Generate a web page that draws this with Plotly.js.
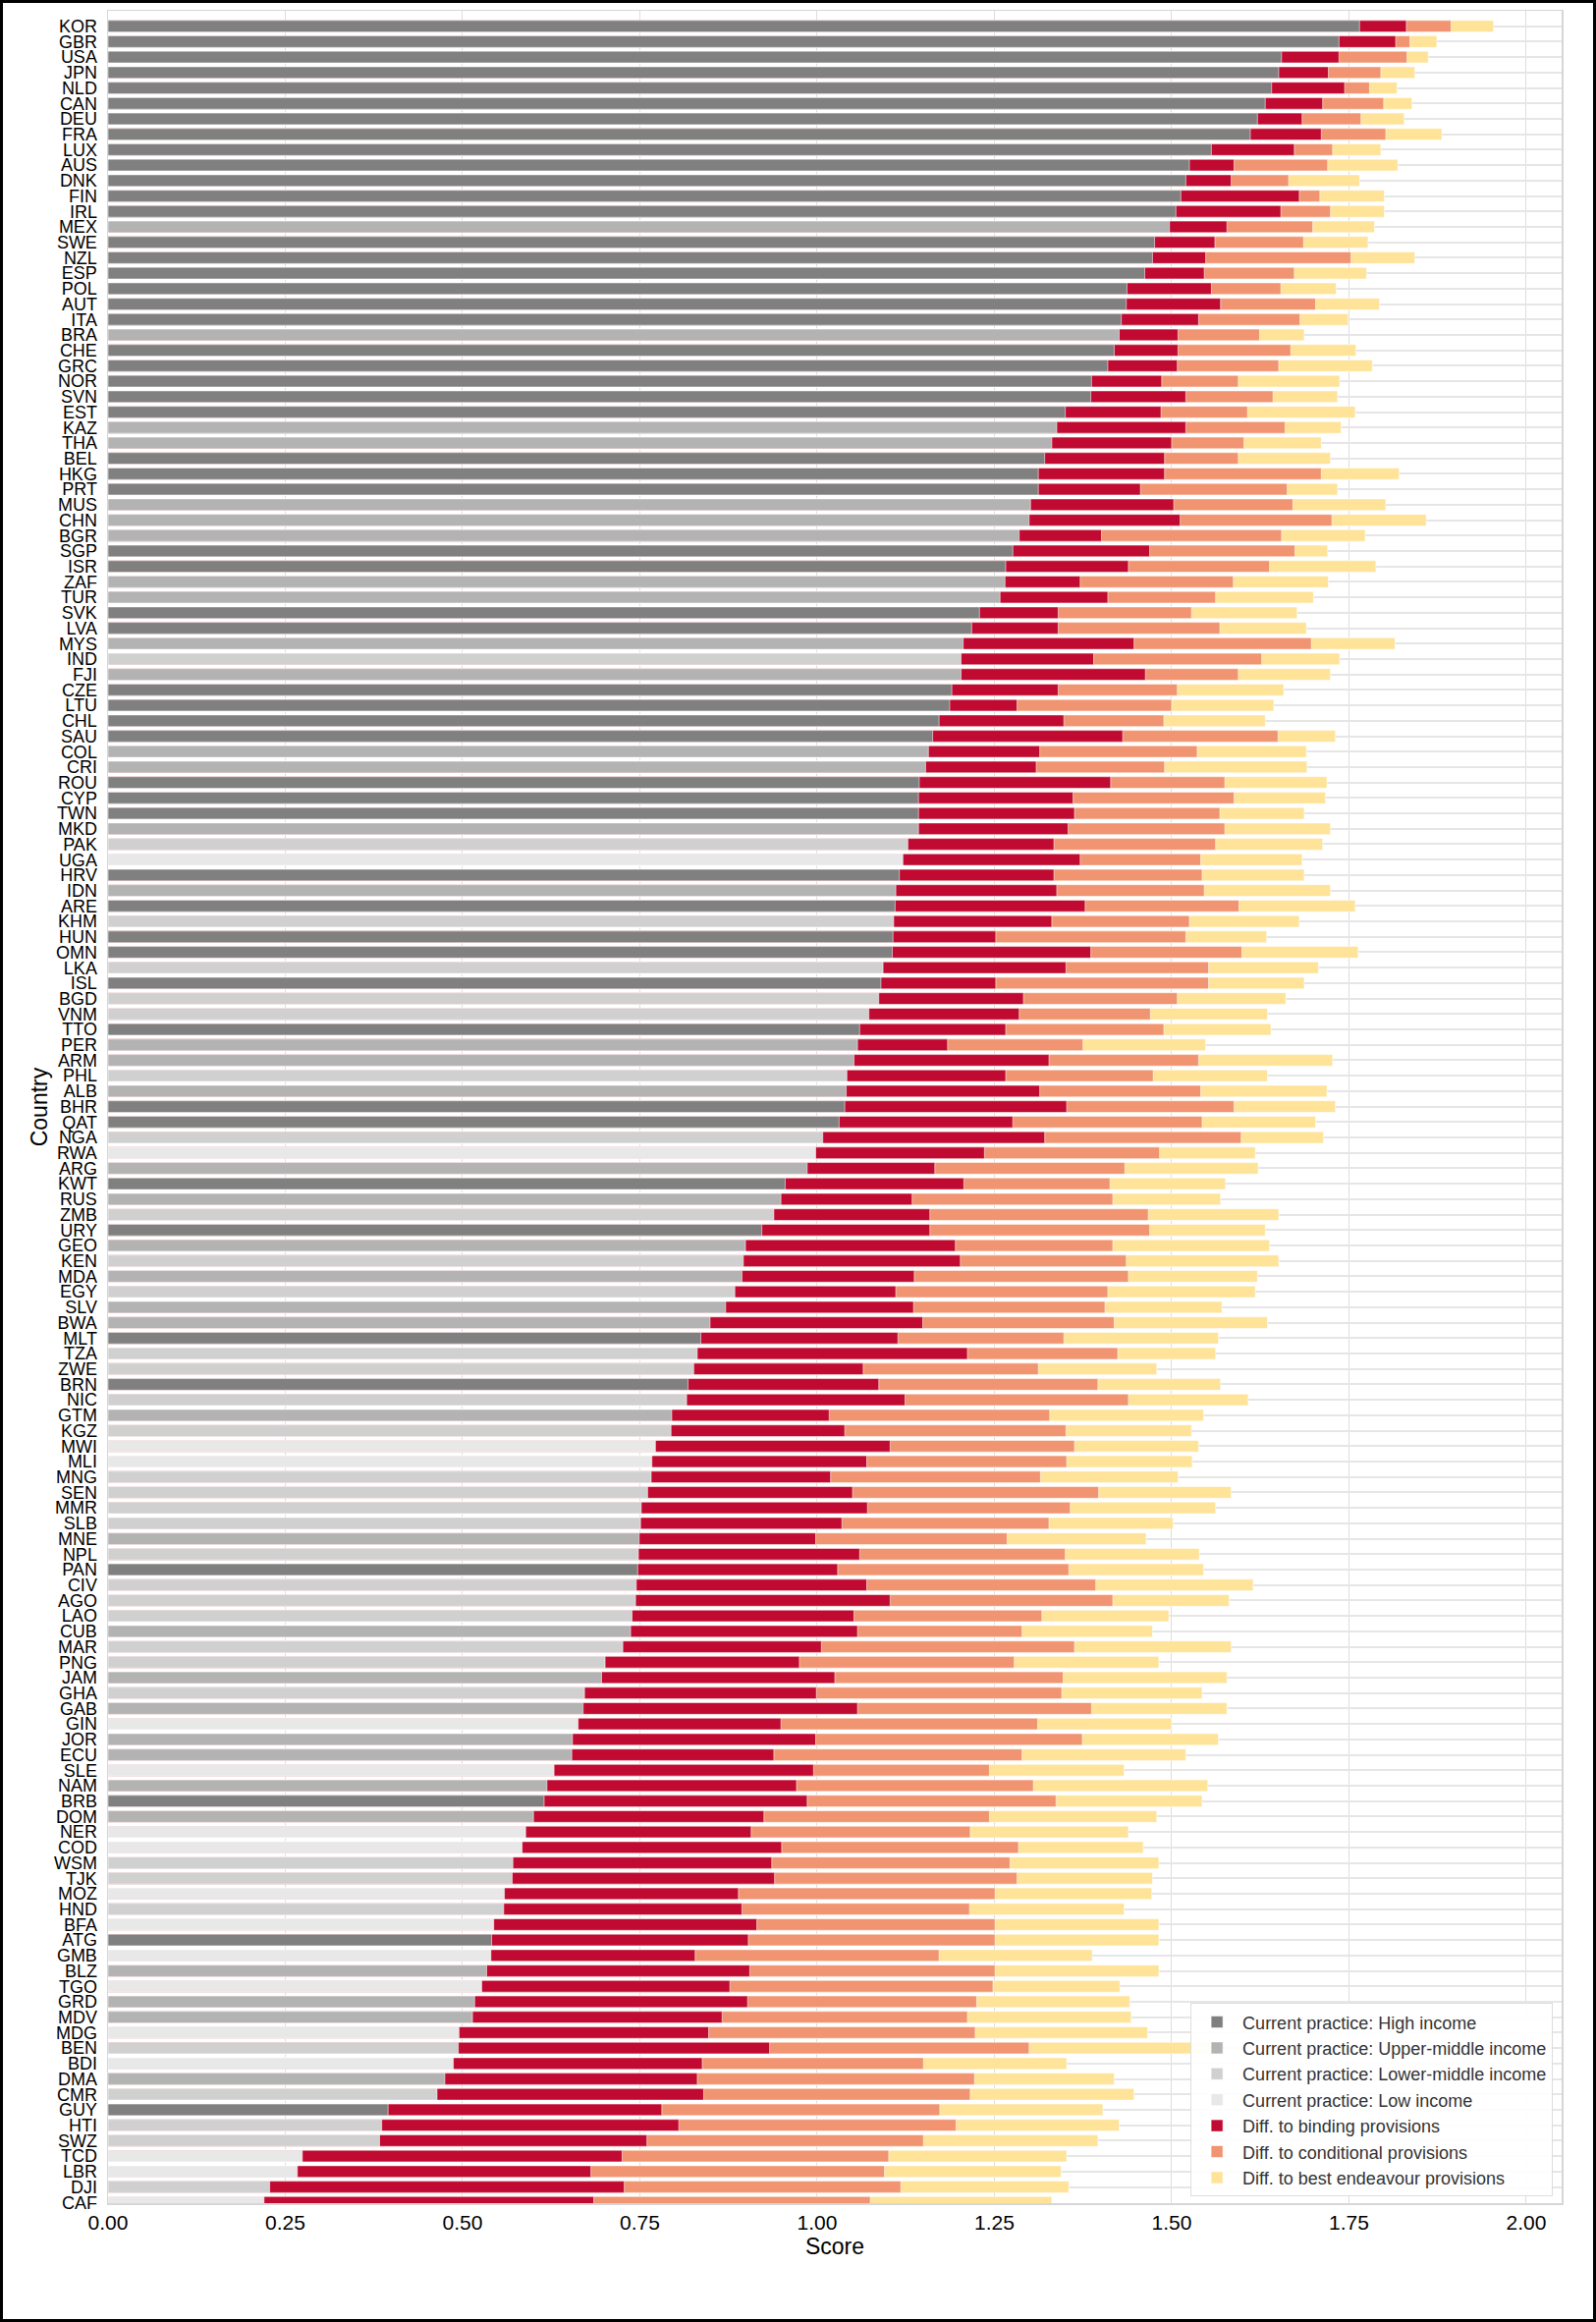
<!DOCTYPE html>
<html>
<head>
<meta charset="utf-8">
<title>Current practice and differences to provisions</title>
<script src="https://cdn.plot.ly/plotly-3.0.1.min.js"></script>
<style>
  body { margin: 0; background: #fff; }
  #chart { position: absolute; left: 0; top: 0; width: 1625px; height: 2364px; }
  #frame { position: absolute; left: 0; top: 0; width: 1625px; height: 2364px;
           box-sizing: border-box; border: 3px solid #000; pointer-events: none; }
</style>
</head>
<body>
<div id="chart"></div>
<div id="frame"></div>
<script>
// countries, top to bottom
var countries = ['KOR','GBR','USA','JPN','NLD','CAN','DEU','FRA','LUX','AUS','DNK','FIN','IRL','MEX','SWE','NZL','ESP','POL','AUT','ITA',
  'BRA','CHE','GRC','NOR','SVN','EST','KAZ','THA','BEL','HKG','PRT','MUS','CHN','BGR','SGP','ISR','ZAF','TUR','SVK','LVA',
  'MYS','IND','FJI','CZE','LTU','CHL','SAU','COL','CRI','ROU','CYP','TWN','MKD','PAK','UGA','HRV','IDN','ARE','KHM','HUN',
  'OMN','LKA','ISL','BGD','VNM','TTO','PER','ARM','PHL','ALB','BHR','QAT','NGA','RWA','ARG','KWT','RUS','ZMB','URY','GEO',
  'KEN','MDA','EGY','SLV','BWA','MLT','TZA','ZWE','BRN','NIC','GTM','KGZ','MWI','MLI','MNG','SEN','MMR','SLB','MNE','NPL',
  'PAN','CIV','AGO','LAO','CUB','MAR','PNG','JAM','GHA','GAB','GIN','JOR','ECU','SLE','NAM','BRB','DOM','NER','COD','WSM',
  'TJK','MOZ','HND','BFA','ATG','GMB','BLZ','TGO','GRD','MDV','MDG','BEN','BDI','DMA','CMR','GUY','HTI','SWZ','TCD','LBR',
  'DJI','CAF'];

// H = high, UM = upper-middle, LM = lower-middle, L = low income
var income = ['H','H','H','H','H','H','H','H','H','H','H','H','H','UM','H','H','H','H','H','H',
  'UM','H','H','H','H','H','UM','UM','H','H','H','UM','UM','UM','H','H','UM','UM','H','H',
  'UM','LM','UM','H','H','H','H','UM','UM','H','H','H','UM','LM','L','H','UM','H','LM','H',
  'H','LM','H','LM','LM','H','UM','UM','LM','UM','H','H','LM','L','UM','H','UM','LM','H','UM',
  'LM','UM','LM','UM','UM','H','LM','LM','H','LM','UM','LM','L','L','LM','LM','LM','LM','UM','LM',
  'H','LM','LM','LM','UM','LM','LM','UM','LM','UM','L','UM','UM','L','UM','H','UM','L','L','LM',
  'LM','L','LM','L','H','L','UM','L','UM','UM','L','LM','L','UM','LM','H','LM','LM','L','L',
  'LM','L'];

// score under current practice
var current = [1.765,1.736,1.655,1.651,1.641,1.632,1.621,1.611,1.556,1.525,1.520,1.513,1.506,1.497,1.476,1.473,1.462,1.437,1.436,1.429,
  1.426,1.419,1.410,1.387,1.386,1.350,1.338,1.331,1.321,1.312,1.312,1.301,1.299,1.285,1.276,1.266,1.265,1.258,1.229,1.218,
  1.206,1.203,1.203,1.190,1.187,1.172,1.163,1.157,1.153,1.144,1.143,1.143,1.143,1.128,1.121,1.116,1.111,1.110,1.108,1.107,
  1.106,1.093,1.090,1.087,1.073,1.060,1.057,1.052,1.042,1.041,1.039,1.031,1.008,0.998,0.986,0.955,0.949,0.939,0.922,0.899,
  0.896,0.894,0.884,0.871,0.849,0.836,0.831,0.826,0.818,0.816,0.795,0.794,0.772,0.767,0.766,0.761,0.752,0.751,0.749,0.748,
  0.747,0.745,0.744,0.739,0.737,0.726,0.701,0.696,0.672,0.670,0.663,0.655,0.654,0.629,0.619,0.615,0.600,0.589,0.584,0.571,
  0.570,0.559,0.558,0.544,0.541,0.540,0.534,0.527,0.517,0.514,0.495,0.494,0.487,0.475,0.464,0.395,0.386,0.383,0.274,0.267,
  0.228,0.220];

// score if binding provisions were applied
var binding = [1.831,1.816,1.736,1.721,1.744,1.713,1.684,1.711,1.673,1.588,1.584,1.680,1.654,1.578,1.561,1.548,1.546,1.556,1.569,1.538,
  1.509,1.509,1.508,1.486,1.520,1.485,1.520,1.500,1.490,1.490,1.456,1.503,1.512,1.401,1.469,1.439,1.371,1.410,1.340,1.340,
  1.447,1.390,1.463,1.340,1.282,1.348,1.431,1.314,1.309,1.414,1.361,1.363,1.354,1.334,1.371,1.334,1.338,1.378,1.331,1.252,
  1.386,1.351,1.252,1.291,1.285,1.266,1.184,1.327,1.266,1.314,1.352,1.276,1.321,1.236,1.166,1.207,1.134,1.159,1.159,1.195,
  1.202,1.137,1.111,1.136,1.149,1.114,1.212,1.065,1.087,1.124,1.017,1.039,1.103,1.070,1.019,1.050,1.071,1.035,0.998,1.060,
  1.029,1.070,1.103,1.052,1.057,1.006,0.975,1.025,0.999,1.057,0.949,0.998,0.939,0.995,0.971,0.986,0.925,0.907,0.950,0.936,
  0.940,0.889,0.894,0.915,0.903,0.828,0.905,0.877,0.902,0.866,0.847,0.933,0.838,0.831,0.840,0.781,0.805,0.760,0.725,0.681,
  0.728,0.685];

// score if conditional provisions were applied as well
var conditional = [1.894,1.836,1.832,1.795,1.779,1.799,1.767,1.802,1.727,1.720,1.665,1.709,1.724,1.699,1.686,1.753,1.673,1.654,1.703,1.681,
  1.624,1.668,1.651,1.594,1.643,1.607,1.660,1.602,1.594,1.711,1.663,1.671,1.726,1.655,1.674,1.638,1.587,1.562,1.528,1.568,
  1.697,1.627,1.594,1.508,1.500,1.489,1.650,1.536,1.490,1.575,1.588,1.568,1.575,1.562,1.541,1.543,1.546,1.595,1.525,1.520,
  1.599,1.552,1.552,1.508,1.470,1.489,1.375,1.538,1.474,1.541,1.588,1.543,1.598,1.483,1.434,1.413,1.417,1.467,1.469,1.417,
  1.436,1.439,1.410,1.406,1.419,1.348,1.424,1.312,1.396,1.439,1.328,1.351,1.363,1.352,1.315,1.397,1.357,1.327,1.268,1.350,
  1.355,1.393,1.417,1.317,1.289,1.363,1.278,1.347,1.345,1.387,1.311,1.374,1.289,1.243,1.305,1.337,1.243,1.216,1.284,1.272,
  1.282,1.251,1.215,1.251,1.251,1.172,1.251,1.248,1.225,1.212,1.223,1.299,1.150,1.222,1.216,1.173,1.196,1.150,1.101,1.095,
  1.118,1.075];

// score if best endeavour provisions were applied as well
var bestEndeavour = [1.954,1.874,1.862,1.843,1.818,1.839,1.828,1.881,1.795,1.819,1.765,1.800,1.800,1.786,1.777,1.843,1.775,1.732,1.793,1.749,
  1.687,1.760,1.783,1.737,1.734,1.759,1.739,1.711,1.724,1.821,1.734,1.802,1.859,1.773,1.720,1.788,1.721,1.700,1.677,1.690,
  1.815,1.737,1.724,1.658,1.644,1.632,1.731,1.690,1.691,1.719,1.717,1.687,1.724,1.713,1.684,1.687,1.724,1.759,1.680,1.634,
  1.763,1.707,1.687,1.661,1.635,1.640,1.548,1.727,1.635,1.719,1.731,1.703,1.714,1.618,1.622,1.576,1.569,1.651,1.632,1.638,
  1.651,1.621,1.618,1.571,1.635,1.566,1.562,1.479,1.569,1.608,1.545,1.528,1.538,1.529,1.509,1.584,1.562,1.502,1.464,1.539,
  1.545,1.615,1.581,1.496,1.473,1.584,1.482,1.578,1.543,1.578,1.500,1.566,1.520,1.433,1.551,1.543,1.479,1.439,1.460,1.482,
  1.473,1.472,1.433,1.482,1.482,1.388,1.482,1.427,1.441,1.443,1.466,1.560,1.352,1.419,1.447,1.403,1.426,1.396,1.352,1.344,
  1.355,1.331];

var incomeGroups = ['H','UM','LM','L'];
var incomeNames = ['Current practice: High income','Current practice: Upper-middle income',
                   'Current practice: Lower-middle income','Current practice: Low income'];
var incomeColors = ['#808080','#b3b3b3','#d0d0d0','#e8e8e8'];

var edge = {color: 'rgba(255,255,255,0.55)', width: 1};

function hbar(name, xs, ys, color, rank) {
  return {
    type: 'bar', orientation: 'h', name: name,
    x: xs, y: ys,
    marker: {color: color, line: edge},
    legendrank: rank,
    hoverinfo: 'x+y+name'
  };
}

// overlaid bars: longest first so each shorter bar sits on top
var data = [
  hbar('Diff. to best endeavour provisions', bestEndeavour, countries, '#fee398', 7),
  hbar('Diff. to conditional provisions', conditional, countries, '#f19471', 6),
  hbar('Diff. to binding provisions', binding, countries, '#c10a31', 5)
];

incomeGroups.forEach(function (g, k) {
  var xs = [], ys = [];
  for (var i = 0; i < countries.length; i++) {
    if (income[i] === g) { xs.push(current[i]); ys.push(countries[i]); }
  }
  data.push(hbar(incomeNames[k], xs, ys, incomeColors[k], k + 1));
});

var font = 'Liberation Sans, Arial, Helvetica, sans-serif';

var layout = {
  width: 1625, height: 2364,
  margin: {l: 110, r: 35, t: 11, b: 121},
  paper_bgcolor: '#ffffff', plot_bgcolor: '#ffffff',
  barmode: 'overlay', bargap: 0.25,
  font: {family: font, color: '#000'},
  showlegend: true,
  legend: {
    x: 0.994, xanchor: 'right', y: 0.003, yanchor: 'bottom',
    bgcolor: 'rgba(255,255,255,0.92)', bordercolor: '#dddddd', borderwidth: 1,
    font: {family: font, size: 18, color: '#333333'},
    itemwidth: 42,
    traceorder: 'normal'
  },
  xaxis: {
    range: [0, 2.05],
    tickmode: 'array',
    tickvals: [0, 0.25, 0.5, 0.75, 1, 1.25, 1.5, 1.75, 2],
    tickformat: '.2f',
    tickfont: {size: 21, color: '#000'},
    ticks: '',
    showgrid: true, gridcolor: '#dedede', gridwidth: 1,
    zeroline: false,
    showline: true, mirror: true, linecolor: '#d6d6d6', linewidth: 1.5,
    title: {text: 'Score', font: {size: 23, color: '#000'}, standoff: 4}
  },
  yaxis: {
    type: 'category',
    categoryorder: 'array', categoryarray: countries,
    tickmode: 'array', tickvals: countries, ticktext: countries,
    range: [141.05, -1],
    tickfont: {size: 18, color: '#000'},
    ticks: 'outside', ticklen: 6, tickcolor: 'rgba(0,0,0,0)',
    showgrid: true, gridcolor: '#e6e6e6', gridwidth: 2,
    zeroline: false,
    showline: true, mirror: true, linecolor: '#d6d6d6', linewidth: 1.5,
    title: {text: 'Country', font: {size: 23, color: '#000'}, standoff: 0}
  }
};

Plotly.newPlot('chart', data, layout, {staticPlot: true});
</script>
</body>
</html>
